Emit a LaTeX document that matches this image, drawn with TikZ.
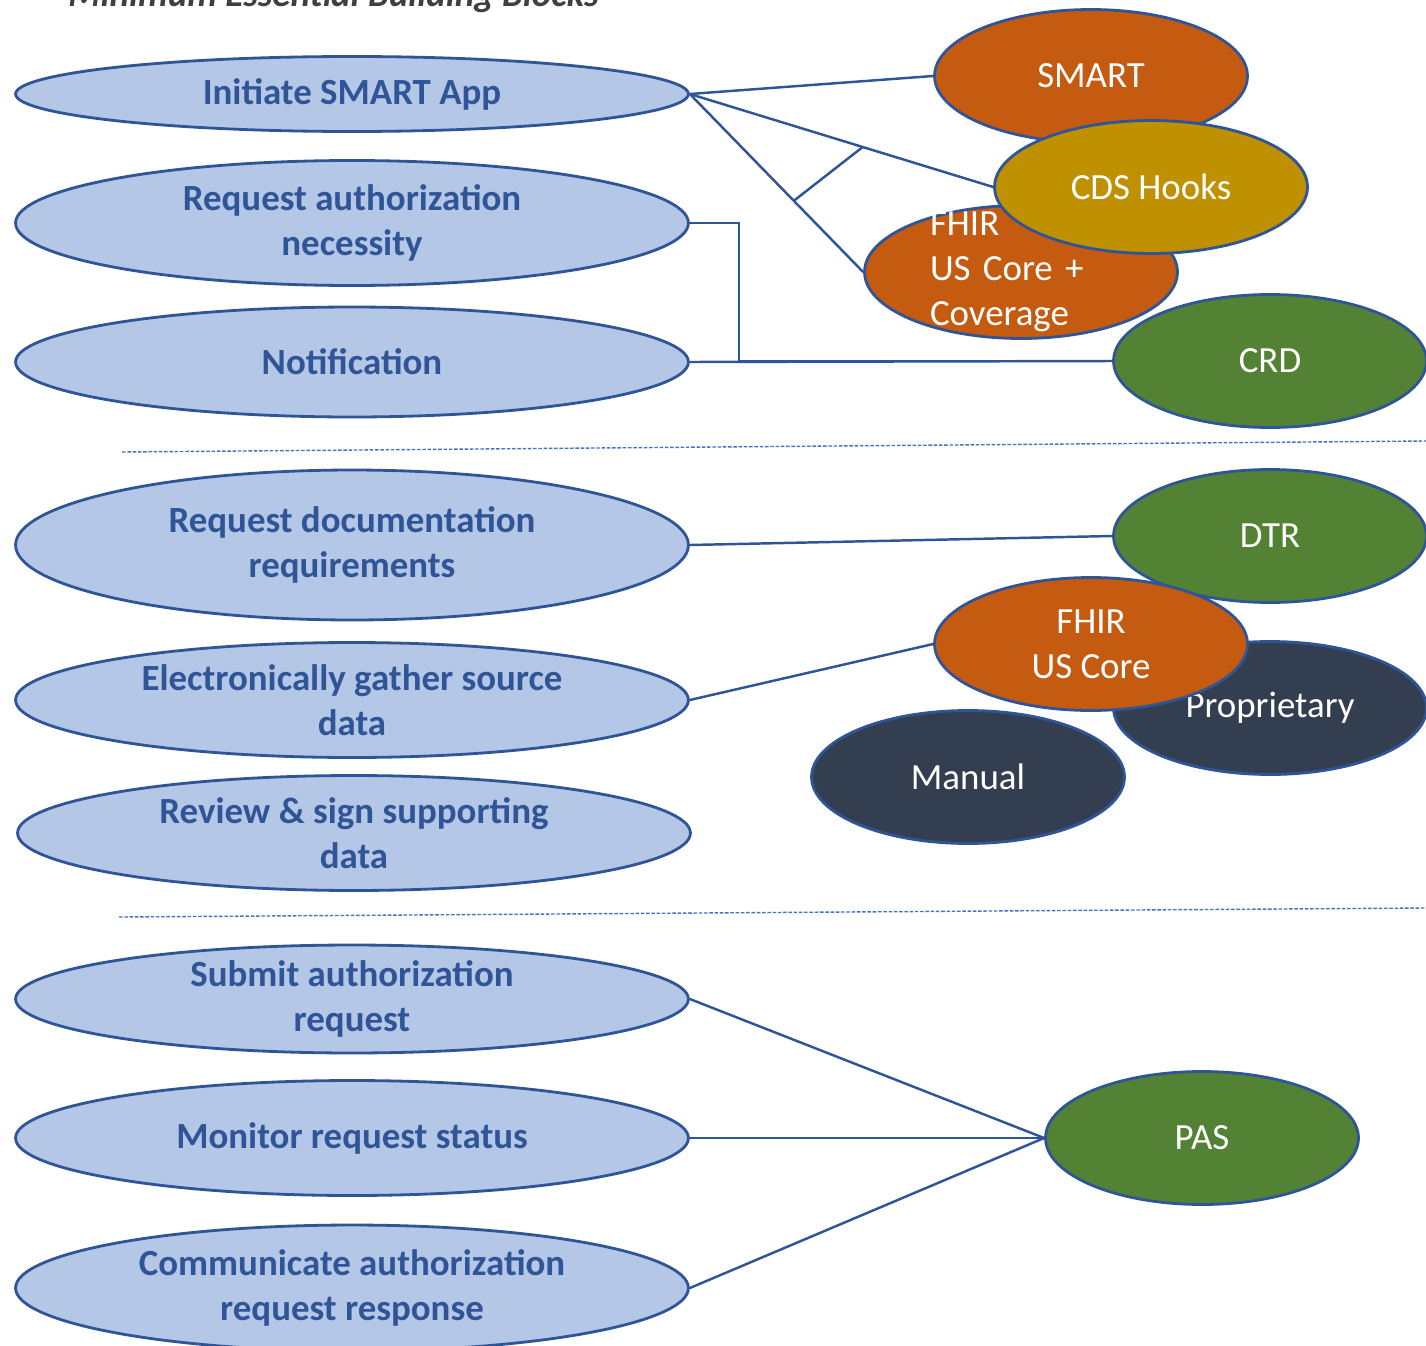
\documentclass[tikz,border=0pt]{standalone}
\usepackage{fontspec}
\setmainfont{Carlito}
\usetikzlibrary{calc}
\usetikzlibrary{shapes.geometric}

\definecolor{taskfill}{HTML}{B4C7E7}
\definecolor{navyline}{HTML}{2F5597}
\definecolor{smartorange}{HTML}{C55A11}
\definecolor{hookgold}{HTML}{BF9000}
\definecolor{igreen}{HTML}{548235}
\definecolor{slate}{HTML}{333F50}
\definecolor{sepblue}{HTML}{4472C4}
\definecolor{titlegray}{HTML}{3F3F3F}

\tikzset{
  task/.style={ellipse, draw=navyline, line width=1.6pt, fill=taskfill, text=navyline,
    font=\bfseries\fontsize{21}{25.6}\selectfont, align=center,
    inner sep=0pt, inner ysep=-5pt, minimum width=13.46cm},
  block/.style={ellipse, draw=navyline, line width=1.6pt, text=white,
    font=\fontsize{21}{25.6}\selectfont, align=center,
    inner sep=0pt, inner ysep=-12pt, minimum width=6.26cm, minimum height=2.66cm},
  link/.style={navyline, line width=1.4pt},
  divider/.style={sepblue, line width=0.8pt, dash pattern=on 2pt off 1pt}
}

\begin{document}
\begin{tikzpicture}[x=0.02cm, y=-0.02cm]

\useasboundingbox (0,0) rectangle (1426,1345);

\node[anchor=base west, inner sep=0pt, text=titlegray,
  font=\bfseries\itshape\fontsize{21}{25.6}\selectfont] (title) at (68,7) {Minimum Essential Building Blocks};

% tasks
\node[task, minimum height=1.5cm] (init) at (352,94) {Initiate SMART App};
\node[task, minimum height=2.5cm] (necess) at (352,223) {Request authorization\\necessity};
\node[task, minimum height=2.2cm] (notif) at (352,362) {Notification};
\node[task, minimum height=3cm] (docreq) at (352,545) {Request documentation\\requirements};
\node[task, minimum height=2.3cm] (gather) at (352,700) {Electronically gather source\\data};
\node[task, minimum height=2.3cm] (review) at (354,833) {Review \& sign supporting\\data};
\node[task, minimum height=2.16cm] (submit) at (352,999) {Submit authorization\\request};
\node[task, minimum height=2.3cm] (monitor) at (352,1138) {Monitor request status};
\node[task, minimum height=2.52cm] (respond) at (352,1288) {Communicate authorization\\request response};

% building blocks
\node[block, fill=smartorange] (smart) at (1091,76) {SMART};
\node[block, fill=smartorange, text width=3.64cm, align=left] (fhircov) at (1021,272) {FHIR\\US Core +\\Coverage};
\node[block, fill=hookgold] (hooks) at (1151,187) {CDS Hooks};
\node[block, fill=igreen] (crd) at (1270,361) {CRD};
\node[block, fill=igreen] (dtr) at (1270,536) {DTR};
\node[block, fill=slate] (propr) at (1270,708) {Proprietary};
\node[block, fill=slate] (manual) at (968,777) {Manual};
\node[block, fill=smartorange] (fhircore) at (1091,644) {FHIR\\US Core};
\node[block, fill=igreen] (pas) at (1202,1138) {PAS};

\draw[link] (init.east)--(smart.west);
\draw[link] (init.east)--(hooks.west);
\draw[link] (init.east)--(fhircov.west);
\draw[link] ($(init.east)!0.6!(fhircov.west)$)--($(init.east)!0.57!(hooks.west)$);

\draw[link] (necess.east)--++(49,0) |- (crd.west);
\draw[link] (notif.east)--(crd.west);

\draw[link] (docreq.east)--(dtr.west);
\draw[link] (gather.east)--(fhircore.west);

\draw[link] (submit.east)--(pas.west);
\draw[link] (monitor.east)--(pas.west);
\draw[link] (respond.east)--(pas.west);

\coordinate (sepA) at (122,452);
\coordinate (sepB) at (1426,441);
\coordinate (sepC) at (119,917);
\coordinate (sepD) at (1426,908);
\draw[divider] (sepA)--(sepB);
\draw[divider] (sepC)--(sepD);

\end{tikzpicture}
\end{document}
